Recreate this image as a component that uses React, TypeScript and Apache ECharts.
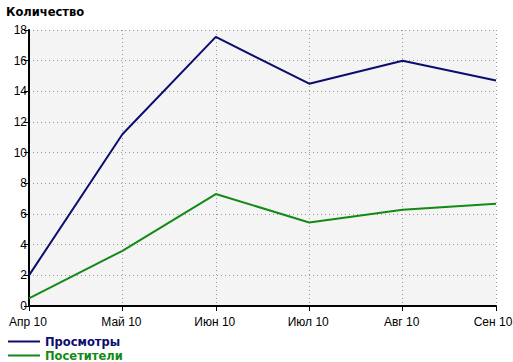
import React, { useEffect, useRef } from "react";
import * as echarts from "echarts";

const categories = ["Апр 10", "Май 10", "Июн 10", "Июл 10", "Авг 10", "Сен 10"];
const views = [2.0, 11.2, 17.55, 14.5, 16.0, 14.7];
const visitors = [0.5, 3.6, 7.3, 5.45, 6.27, 6.67];
const yTicks = { min: 0, max: 18, interval: 2 };
const titleText = "Количество";
const seriesNames = ["Просмотры", "Посетители"];
const colors = ["#0c0c6e", "#138a13"];

export default function App() {
  const ref = useRef<HTMLDivElement>(null);
  useEffect(() => {
    const chart = echarts.init(ref.current!, null, { renderer: "svg" });
    const xData = categories.map((c, i) =>
      i === categories.length - 1
        ? { value: c, textStyle: { padding: [0, 6, 0, 0] } }
        : { value: c, textStyle: { padding: [0, 2, 0, 0] } }
    );
    chart.setOption({
      animation: false,
      backgroundColor: "#ffffff",
      title: {
        text: titleText,
        left: 3,
        top: 3,
        padding: 3,
        textStyle: { fontFamily: "DejaVu Sans", fontWeight: "bold", fontSize: 11.5, color: "#000" },
      },
      legend: {
        orient: "vertical",
        left: 8,
        top: 335,
        padding: 0,
        itemWidth: 32,
        itemHeight: 2,
        itemGap: 1,
        icon: "rect",
        data: seriesNames.map((n, i) => ({
          name: n,
          textStyle: {
            color: colors[i],
            fontFamily: "DejaVu Sans",
            fontWeight: "bold",
            fontSize: 11.5,
            lineHeight: 13,
          },
        })),
      },
      grid: {
        left: 29,
        right: 17,
        top: 30,
        bottom: 56,
        show: true,
        backgroundColor: "#f4f4f4",
        borderWidth: 0,
        outerBoundsMode: "none",
        containLabel: false,
      },
      xAxis: {
        type: "category",
        data: xData,
        boundaryGap: false,
        axisLine: { lineStyle: { color: "#000", width: 2 } },
        axisTick: { show: true, length: 5, lineStyle: { color: "#000", width: 1 } },
        axisLabel: { color: "#000", fontFamily: "Liberation Sans", fontSize: 12, margin: 10 },
        splitLine: { show: true, lineStyle: { color: "#999", type: [1, 3], width: 1 } },
      },
      yAxis: {
        type: "value",
        min: yTicks.min,
        max: yTicks.max,
        interval: yTicks.interval,
        axisLine: { show: true, lineStyle: { color: "#000", width: 2 } },
        axisTick: { show: true, length: 5, lineStyle: { color: "#000", width: 1 } },
        axisLabel: { color: "#000", fontFamily: "Liberation Sans", fontSize: 12, margin: 2 },
        splitLine: { show: true, lineStyle: { color: "#999", type: [1, 3], width: 1 } },
      },
      series: [
        {
          name: seriesNames[0],
          type: "line",
          data: views,
          symbol: "none",
          lineStyle: { color: colors[0], width: 2 },
          itemStyle: { color: colors[0] },
        },
        {
          name: seriesNames[1],
          type: "line",
          data: visitors,
          symbol: "none",
          lineStyle: { color: colors[1], width: 2 },
          itemStyle: { color: colors[1] },
        },
      ],
    });
    return () => chart.dispose();
  }, []);
  return <div ref={ref} style={{ width: 513, height: 362, position: "absolute", left: 0, top: 0 }} />;
}
